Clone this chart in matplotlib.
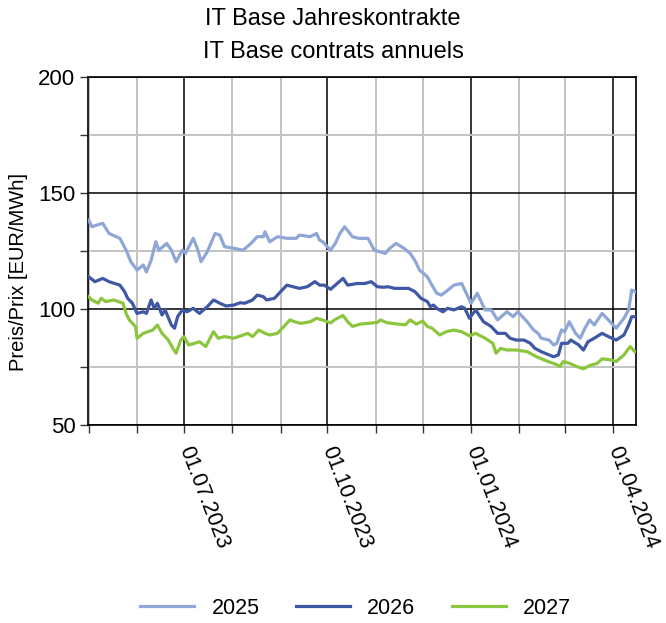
import matplotlib
matplotlib.use('Agg')
import matplotlib.pyplot as plt
import matplotlib.dates as mdates
import pandas as pd

plt.rcParams['font.family'] = ['Liberation Sans', 'DejaVu Sans']

# values (EUR/MWh)
dates_2025 = ['2023-05-01', '2023-05-03', '2023-05-10', '2023-05-14', '2023-05-21', '2023-05-25', '2023-05-28',
              '2023-06-01', '2023-06-05', '2023-06-07', '2023-06-10', '2023-06-13', '2023-06-15', '2023-06-20',
              '2023-06-23', '2023-06-26', '2023-06-30', '2023-07-02', '2023-07-07', '2023-07-10', '2023-07-12',
              '2023-07-16', '2023-07-21', '2023-07-24', '2023-07-27', '2023-08-02', '2023-08-08', '2023-08-13',
              '2023-08-17', '2023-08-21', '2023-08-22', '2023-08-25', '2023-08-30', '2023-09-05', '2023-09-11',
              '2023-09-13', '2023-09-20', '2023-09-24', '2023-09-26', '2023-09-28', '2023-10-03', '2023-10-06',
              '2023-10-09', '2023-10-12', '2023-10-17', '2023-10-21', '2023-10-27', '2023-10-31', '2023-11-07',
              '2023-11-10', '2023-11-14', '2023-11-19', '2023-11-23', '2023-11-26', '2023-11-29', '2023-12-04',
              '2023-12-07', '2023-12-10', '2023-12-13', '2023-12-16', '2023-12-21', '2023-12-26', '2023-12-29',
              '2024-01-01', '2024-01-05', '2024-01-10', '2024-01-14', '2024-01-18', '2024-01-24', '2024-01-28',
              '2024-01-31', '2024-02-06', '2024-02-10', '2024-02-13', '2024-02-15', '2024-02-20', '2024-02-23',
              '2024-02-25', '2024-02-28', '2024-03-01', '2024-03-04', '2024-03-08', '2024-03-11', '2024-03-14',
              '2024-03-17', '2024-03-20', '2024-03-25', '2024-03-29', '2024-04-03', '2024-04-08', '2024-04-11',
              '2024-04-13', '2024-04-15']
vals_2025 = [138.4, 135.5, 137.0, 132.6, 130.5, 125.4, 120.4,
             116.8, 119.0, 116.0, 121.0, 129.0, 125.4, 128.3,
             125.4, 120.4, 125.4, 124.0, 130.5, 125.4, 120.4,
             124.7, 132.6, 131.9, 126.9, 126.2, 125.4, 128.3,
             131.2, 131.2, 133.3, 129.0, 131.2, 130.5, 130.5,
             131.9, 131.2, 132.6, 129.7, 129.0, 125.4, 128.3,
             132.6, 135.5, 131.2, 130.5, 130.5, 125.4, 124.0,
             126.2, 128.3, 126.2, 124.0, 121.0, 116.8, 113.9,
             110.3, 106.8, 106.0, 107.5, 110.3, 111.0, 106.8,
             102.5, 106.8, 99.6, 99.6, 95.3, 98.8, 96.7,
             98.8, 94.5, 91.0, 89.5, 87.4, 86.6, 84.5,
             85.2, 91.0, 90.2, 94.5, 89.5, 87.4, 91.7,
             95.3, 93.1, 98.1, 95.3, 91.7, 96.0, 99.6,
             108.2, 107.5]

dates_2026 = ['2023-05-01', '2023-05-05', '2023-05-10', '2023-05-14', '2023-05-21', '2023-05-24', '2023-05-26',
              '2023-05-29', '2023-06-01', '2023-06-05', '2023-06-07', '2023-06-10', '2023-06-12', '2023-06-14',
              '2023-06-17', '2023-06-19', '2023-06-23', '2023-06-25', '2023-06-27', '2023-06-30', '2023-07-03',
              '2023-07-07', '2023-07-11', '2023-07-16', '2023-07-20', '2023-07-24', '2023-07-28', '2023-08-02',
              '2023-08-06', '2023-08-09', '2023-08-14', '2023-08-17', '2023-08-21', '2023-08-23', '2023-08-28',
              '2023-09-02', '2023-09-05', '2023-09-09', '2023-09-13', '2023-09-18', '2023-09-23', '2023-09-26',
              '2023-09-29', '2023-10-03', '2023-10-06', '2023-10-11', '2023-10-14', '2023-10-20', '2023-10-25',
              '2023-10-29', '2023-11-02', '2023-11-06', '2023-11-09', '2023-11-13', '2023-11-18', '2023-11-22',
              '2023-11-26', '2023-11-30', '2023-12-04', '2023-12-06', '2023-12-08', '2023-12-10', '2023-12-14',
              '2023-12-17', '2023-12-21', '2023-12-26', '2023-12-28', '2023-12-31', '2024-01-04', '2024-01-09',
              '2024-01-14', '2024-01-18', '2024-01-23', '2024-01-26', '2024-01-30', '2024-02-04', '2024-02-08',
              '2024-02-11', '2024-02-15', '2024-02-20', '2024-02-23', '2024-02-26', '2024-02-28', '2024-03-03',
              '2024-03-05', '2024-03-10', '2024-03-13', '2024-03-16', '2024-03-20', '2024-03-25', '2024-03-29',
              '2024-04-03', '2024-04-08', '2024-04-11', '2024-04-13', '2024-04-15']
vals_2026 = [113.9, 111.8, 113.2, 111.8, 110.3, 107.5, 104.6,
             102.5, 98.1, 98.8, 98.1, 103.9, 100.3, 102.5,
             97.4, 99.6, 93.1, 91.7, 96.7, 99.6, 98.8,
             100.3, 98.1, 101.0, 103.9, 102.5, 101.3, 101.7,
             102.7, 102.5, 103.9, 106.0, 105.3, 103.9, 104.6,
             108.2, 110.3, 109.6, 108.9, 109.6, 111.8, 110.3,
             110.3, 108.5, 110.3, 113.2, 110.3, 111.0, 111.0,
             111.8, 109.6, 109.4, 109.6, 108.9, 108.9, 108.9,
             107.5, 104.6, 103.2, 101.0, 101.7, 100.3, 98.8,
             100.3, 99.6, 101.0, 100.3, 96.0, 99.6, 94.5,
             92.4, 89.5, 89.5, 87.4, 86.6, 86.6, 85.2,
             83.0, 81.6, 80.2, 79.4, 80.2, 85.2, 85.2,
             86.6, 84.5, 82.3, 85.9, 87.4, 89.5, 88.1,
             86.6, 88.8, 93.1, 96.7, 96.7]

dates_2027 = ['2023-05-01', '2023-05-03', '2023-05-07', '2023-05-09', '2023-05-12', '2023-05-17', '2023-05-23',
              '2023-05-25', '2023-05-27', '2023-05-31', '2023-06-01', '2023-06-05', '2023-06-08', '2023-06-11',
              '2023-06-14', '2023-06-17', '2023-06-21', '2023-06-24', '2023-06-26', '2023-06-29', '2023-07-01',
              '2023-07-04', '2023-07-08', '2023-07-11', '2023-07-15', '2023-07-20', '2023-07-23', '2023-07-27',
              '2023-08-02', '2023-08-08', '2023-08-11', '2023-08-14', '2023-08-18', '2023-08-22', '2023-08-25',
              '2023-08-30', '2023-09-03', '2023-09-07', '2023-09-10', '2023-09-14', '2023-09-20', '2023-09-24',
              '2023-09-29', '2023-10-03', '2023-10-06', '2023-10-11', '2023-10-14', '2023-10-17', '2023-10-22',
              '2023-10-27', '2023-11-02', '2023-11-04', '2023-11-08', '2023-11-14', '2023-11-20', '2023-11-23',
              '2023-11-27', '2023-12-01', '2023-12-04', '2023-12-07', '2023-12-12', '2023-12-16', '2023-12-21',
              '2023-12-26', '2023-12-31', '2024-01-04', '2024-01-10', '2024-01-15', '2024-01-17', '2024-01-20',
              '2024-01-24', '2024-01-30', '2024-02-06', '2024-02-12', '2024-02-18', '2024-02-25', '2024-02-27',
              '2024-02-29', '2024-03-04', '2024-03-09', '2024-03-13', '2024-03-17', '2024-03-22', '2024-03-25',
              '2024-03-31', '2024-04-03', '2024-04-08', '2024-04-12', '2024-04-15']
vals_2027 = [105.3, 103.9, 102.5, 104.6, 103.2, 103.9, 102.5,
             98.1, 95.3, 92.4, 87.4, 89.5, 90.2, 90.9,
             93.1, 89.5, 86.6, 83.0, 80.9, 86.6, 88.1,
             84.5, 85.2, 85.9, 83.8, 90.2, 87.4, 88.1,
             87.4, 88.8, 89.5, 88.1, 90.9, 89.5, 88.8,
             89.5, 92.4, 95.3, 94.5, 93.8, 94.5, 96.0,
             95.0, 94.0, 95.5, 97.2, 94.5, 92.5, 93.5,
             93.8, 94.2, 95.3, 94.1, 93.6, 93.2, 95.3,
             93.5, 94.8, 92.5, 91.7, 88.8, 90.2, 90.9,
             90.2, 88.4, 89.5, 87.4, 85.2, 80.9, 83.0,
             82.3, 82.3, 81.6, 79.4, 77.7, 76.0, 75.1,
             77.3, 76.6, 75.1, 74.2, 75.6, 76.6, 78.5,
             78.0, 77.3, 80.2, 83.8, 81.6]

series_names = ['2025', '2026', '2027']
series_colors = ['#8fa7d6', '#3f58a6', '#8cc63f']

fig = plt.figure(figsize=(6.66, 6.23), dpi=100)
ax = fig.add_axes([0.132, 0.318, 0.823, 0.558])

for d, v, name, col in zip([dates_2025, dates_2026, dates_2027],
                           [vals_2025, vals_2026, vals_2027],
                           series_names, series_colors):
    ax.plot(pd.to_datetime(d), v, color=col, lw=2.3, label=name, zorder=3)

ax.set_xlim(pd.Timestamp('2023-04-30 12:00'), pd.Timestamp('2024-04-15 18:00'))
ax.set_ylim(50, 200)

# major ticks each quarter, minor each month
ax.xaxis.set_major_locator(mdates.MonthLocator(bymonth=[1, 4, 7, 10]))
ax.xaxis.set_minor_locator(mdates.MonthLocator())
ax.xaxis.set_major_formatter(mdates.DateFormatter('%d.%m.%Y'))
ax.set_yticks([50, 100, 150, 200])
ax.set_yticks([75, 125, 175], minor=True)

ax.grid(which='minor', color='#c3c3c3', lw=1.4, zorder=0)
ax.grid(which='major', color='black', lw=1.1, zorder=1)
ax.set_axisbelow(True)

ax.tick_params(which='both', direction='out', length=6, width=1, color='#333333')
ax.tick_params(axis='y', labelsize=16, pad=3)
ax.tick_params(axis='x', labelsize=15.5, pad=10)
for lbl in ax.get_xticklabels():
    lbl.set_rotation(-69)
    lbl.set_ha('left')
    lbl.set_va('center')
    lbl.set_rotation_mode('anchor')

for s in ax.spines.values():
    s.set_color('black')
    s.set_linewidth(1.2)

ax.set_ylabel('Preis/Prix [EUR/MWh]', fontsize=14.5)
ax.yaxis.set_label_coords(-0.11, 0.44)

fig.text(0.5, 0.9695, 'IT Base Jahreskontrakte', fontsize=17, ha='center', va='center')
fig.text(0.5, 0.9165, 'IT Base contrats annuels', fontsize=17, ha='center', va='center')

fig.legend(loc='center', bbox_to_anchor=(0.534, 0.024), ncol=3, frameon=False,
           fontsize=15.5, handlelength=2.5, columnspacing=1.7, handletextpad=0.8)

fig.savefig('out.png', dpi=100)
